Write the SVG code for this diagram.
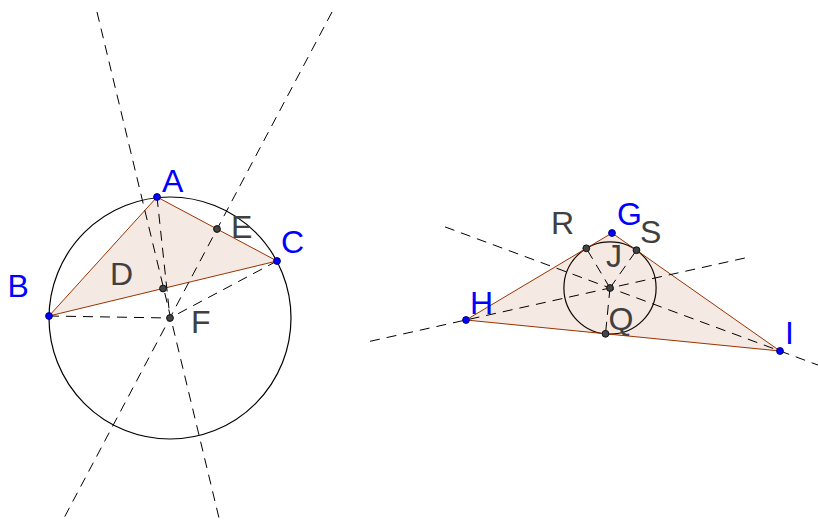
<svg xmlns="http://www.w3.org/2000/svg" width="818" height="523" viewBox="0 0 818 523">
<style>
.tri{fill:#993300;fill-opacity:0.11;stroke:#993300;stroke-width:1}
.circ{fill:none;stroke:#000;stroke-width:1.2}
.dash{fill:none;stroke:#000;stroke-width:1;stroke-dasharray:10,7}
.free{fill:#0000ff;stroke:#00007a;stroke-width:1}
.dep{fill:#444;stroke:#111;stroke-width:1}
.lf{font-family:"Liberation Sans",Arial,sans-serif;font-size:32px;fill:#0000ff}
.ld{font-family:"Liberation Sans",Arial,sans-serif;font-size:32px;fill:#404040}
</style>
<rect width="818" height="523" fill="#fff"/>
<g id="shapes">
<circle class="circ" cx="170" cy="318" r="121"/>
<polygon class="tri" points="157,197 49,316 277,261"/>
<circle class="circ" cx="610" cy="288" r="46.1"/>
<polygon class="tri" points="612,233 466,320 780,351"/>
</g>
<g id="connectors">
<line class="dash" x1="97" y1="12" x2="219" y2="518"/>
<line class="dash" x1="332" y1="12" x2="64" y2="518"/>
<line class="dash" x1="157" y1="197" x2="170" y2="318"/>
<line class="dash" x1="49" y1="316" x2="170" y2="318"/>
<line class="dash" x1="277" y1="261" x2="170" y2="318"/>
<line class="dash" x1="370" y1="341.3" x2="745" y2="258"/>
<line class="dash" x1="445" y1="226.9" x2="820" y2="365.8"/>
<line class="dash" x1="610" y1="288" x2="586.3" y2="248.3"/>
<line class="dash" x1="610" y1="288" x2="636.5" y2="250.2"/>
<line class="dash" x1="610" y1="288" x2="605.5" y2="333.8"/>
</g>
<g id="A"><circle class="free" cx="157" cy="197" r="3.4"/><text class="lf" x="162" y="192">A</text></g>
<g id="B"><circle class="free" cx="49" cy="316" r="3.4"/><text class="lf" x="7.5" y="297">B</text></g>
<g id="C"><circle class="free" cx="277" cy="261" r="3.4"/><text class="lf" x="281" y="253">C</text></g>
<g id="D"><circle class="dep" cx="163" cy="288.5" r="3.4"/><text class="ld" x="110" y="285">D</text></g>
<g id="E"><circle class="dep" cx="217" cy="229" r="3.4"/><text class="ld" x="231" y="238">E</text></g>
<g id="F"><circle class="dep" cx="170" cy="318" r="3.4"/><text class="ld" x="191" y="333">F</text></g>
<g id="G"><circle class="free" cx="612" cy="233" r="3.4"/><text class="lf" x="617" y="225">G</text></g>
<g id="H"><circle class="free" cx="466" cy="320" r="3.4"/><text class="lf" x="470" y="314">H</text></g>
<g id="I"><circle class="free" cx="780" cy="351" r="3.4"/><text class="lf" x="785" y="344">I</text></g>
<g id="J"><circle class="dep" cx="610" cy="288" r="3.4"/><text class="ld" x="606" y="267">J</text></g>
<g id="Q"><circle class="dep" cx="605.5" cy="333.8" r="3.4"/><text class="ld" x="608.5" y="330">Q</text></g>
<g id="R"><circle class="dep" cx="586.3" cy="248.3" r="3.4"/><text class="ld" x="551" y="234">R</text></g>
<g id="S"><circle class="dep" cx="636.5" cy="250.2" r="3.4"/><text class="ld" x="640" y="243">S</text></g>
</svg>
